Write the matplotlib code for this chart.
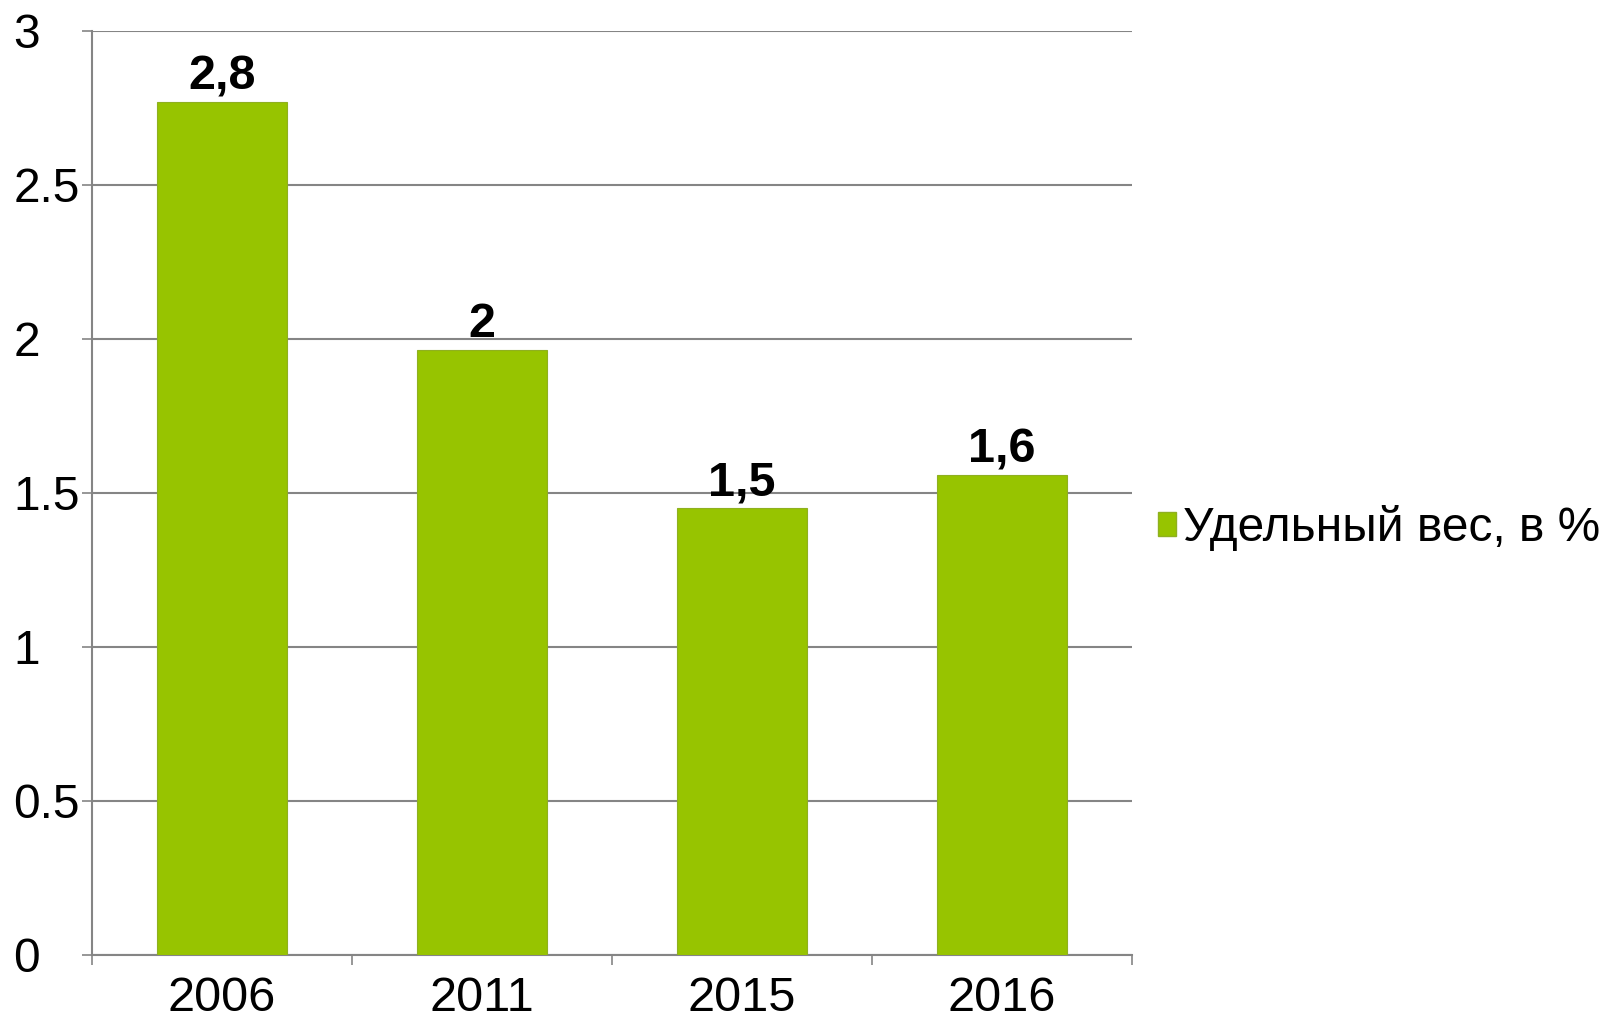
import matplotlib
matplotlib.use("Agg")
import matplotlib.pyplot as plt
from matplotlib.patches import Patch
from matplotlib.ticker import FixedLocator

# data
years = ["2006", "2011", "2015", "2016"]
share = [2.77, 1.965, 1.45, 1.56]
share_labels = ["2,8", "2", "1,5", "1,6"]
y_ticks = [0, 0.5, 1, 1.5, 2, 2.5, 3]
y_tick_labels = ["0", "0.5", "1", "1.5", "2", "2.5", "3"]
series_name = "Удельный вес, в %"

BAR_COLOR = "#97c400"
GRID_COLOR = "#858585"
FS = 34.5

plt.rcParams["font.family"] = ["Liberation Sans", "DejaVu Sans"]

fig = plt.figure(figsize=(16.14, 10.18), dpi=100)
ax = fig.add_axes([92 / 1614, 1 - 955 / 1018, (1132 - 92) / 1614, (955 - 31) / 1018])

x = list(range(len(years)))
bars = ax.bar(x, share, width=0.5, color=BAR_COLOR, edgecolor="#8fb020", linewidth=0.8, zorder=3)

for xi, v, lab in zip(x, share, share_labels):
    ax.annotate(lab, (xi, v), xytext=(0, 9), textcoords="offset points",
                ha="center", va="baseline", fontsize=35, fontweight="bold")

ax.set_xlim(-0.5, len(years) - 0.5)
ax.set_ylim(0, 3)

ax.set_yticks(y_ticks)
ax.set_yticklabels(y_tick_labels, fontsize=FS)
for lab in ax.get_yticklabels():
    lab.set_horizontalalignment("left")
ax.tick_params(axis="y", length=7.2, width=1.2, color=GRID_COLOR, pad=49.5)

ax.set_xticks(x)
ax.set_xticklabels(years, fontsize=35)
ax.xaxis.set_minor_locator(FixedLocator([i - 0.5 for i in range(len(years) + 1)]))
ax.tick_params(axis="x", which="major", length=0, pad=15)
ax.tick_params(axis="x", which="minor", length=7.2, width=1.2, color=GRID_COLOR)

ax.grid(axis="y", color=GRID_COLOR, linewidth=1.5, zorder=0)
ax.set_axisbelow(True)
for side in ["top", "right"]:
    ax.spines[side].set_visible(False)
for side in ["left", "bottom"]:
    ax.spines[side].set_color(GRID_COLOR)
    ax.spines[side].set_linewidth(1.5)

handle = Patch(facecolor=BAR_COLOR, edgecolor="#8fb020")
fig.legend([handle], [series_name], loc="center left",
           bbox_to_anchor=(1158 / 1614, 1 - 528 / 1018), frameon=False,
           fontsize=FS, handlelength=0.38, handleheight=0.38, handletextpad=0.15,
           borderpad=0, borderaxespad=0)

fig.savefig("out.png", dpi=100, facecolor="white")
